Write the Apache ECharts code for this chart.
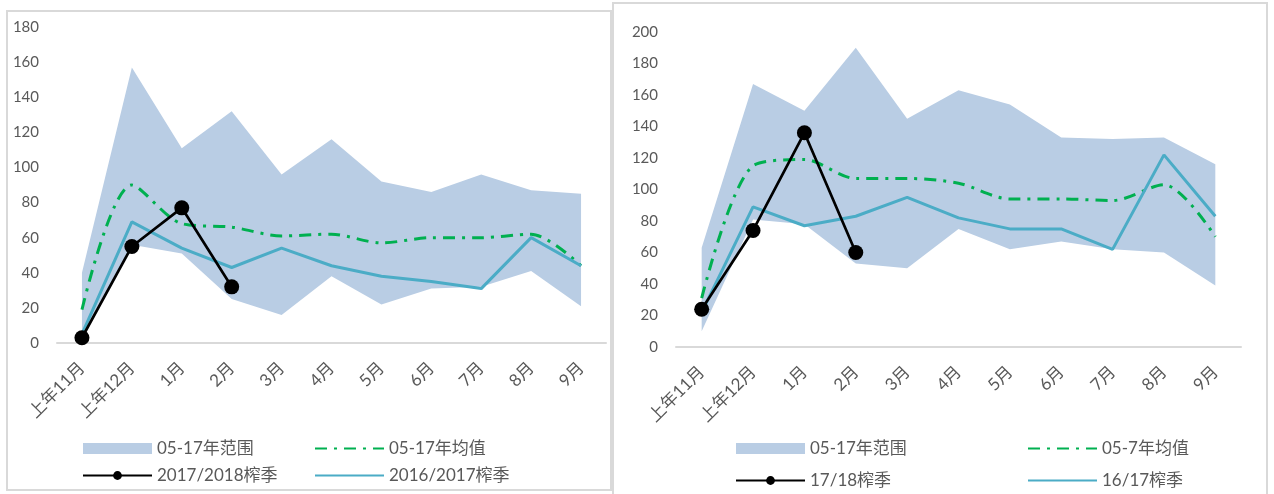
<!DOCTYPE html>
<html>
<head>
<meta charset="utf-8">
<script src="https://cdn.jsdelivr.net/npm/echarts@6/dist/echarts.min.js"></script>
<style>
  html, body { margin: 0; padding: 0; background: #fff; width: 1274px; height: 494px; overflow: hidden; position: relative; }
  .panel { position: absolute; box-sizing: border-box; border: 2px solid #d9d9d9; background: #fff; }
  #left  { left: 6px;   top: 10px; width: 606px; height: 481px; }
  #right { left: 612px; top: 2px;  width: 656px; height: 500px; }
</style>
</head>
<body>
<div id="left" class="panel"></div>
<div id="right" class="panel"></div>
<script>
// Month categories of the crushing season
const months = ['上年11月', '上年12月', '1月', '2月', '3月', '4月', '5月', '6月', '7月', '8月', '9月'];

// Left panel: 05-17 range, average and two seasons
const leftRangeMax = [40, 157, 111, 132, 96, 116, 92, 86, 96, 87, 85];
const leftRangeMin = [2, 56, 51, 25, 16, 38, 22, 31, 32, 41, 21];
const leftMean     = [19, 90, 68, 66, 61, 62, 57, 60, 60, 62, 44];
const left1718     = [3, 55, 77, 32];
const left1617     = [5, 69, 54, 43, 54, 44, 38, 35, 31, 60, 44];

// Right panel: 05-17 range, average and two seasons
const rightRangeMax = [63, 167, 150, 190, 145, 163, 154, 133, 132, 133, 116];
const rightRangeMin = [10, 81, 78, 53, 50, 75, 62, 67, 62, 60, 39];
const rightMean     = [31, 115, 119, 107, 107, 104, 94, 94, 93, 103, 70];
const right1718     = [24, 74, 136, 60];
const right1617     = [22, 89, 77, 83, 95, 82, 75, 75, 62, 122, 83];

const FONT = 'Lato, "Noto Sans CJK SC", sans-serif';
const TEXT = '#595959';
const BAND = '#B9CDE4';
const GREEN = '#00B050';
const CYAN = '#4BACC6';
const NO_MARK = { color: 'rgba(0,0,0,0)', borderWidth: 0, opacity: 0 };

function buildOption(cfg) {
  const bandSpan = cfg.max.map((v, i) => v - cfg.min[i]);
  const legendCommon = {
    orient: 'vertical',
    padding: 0,
    itemWidth: 69,
    itemHeight: 11,
    itemGap: cfg.legendGap,
    selectedMode: false,
    textStyle: { color: TEXT, fontSize: 17, fontFamily: FONT }
  };
  return {
    animation: false,
    backgroundColor: '#fff',
    textStyle: { fontFamily: FONT },
    grid: cfg.grid,
    xAxis: {
      type: 'category',
      data: months,
      boundaryGap: true,
      axisLine: { lineStyle: { color: '#d9d9d9', width: 2 } },
      axisTick: { show: false },
      axisLabel: { rotate: 45, interval: 0, color: TEXT, fontSize: 17, margin: 22, fontFamily: FONT }
    },
    yAxis: {
      type: 'value',
      min: 0,
      max: cfg.yMax,
      interval: 20,
      splitLine: { show: false },
      axisLine: { show: false },
      axisTick: { show: false },
      axisLabel: { color: TEXT, fontSize: 15, margin: 18, fontFamily: FONT }
    },
    legend: [
      Object.assign({}, legendCommon, {
        left: cfg.legendLeft[0], top: cfg.legendTop,
        data: [
          { name: cfg.names.band, icon: 'rect', itemStyle: { color: BAND } },
          { name: cfg.names.cur }
        ]
      }),
      Object.assign({}, legendCommon, {
        left: cfg.legendLeft[1], top: cfg.legendTop,
        data: [
          { name: cfg.names.mean, itemStyle: NO_MARK },
          { name: cfg.names.prev, itemStyle: NO_MARK }
        ]
      })
    ],
    series: [
      {
        name: 'bandBase', type: 'line', stack: 'band', data: cfg.min,
        symbol: 'none', silent: true,
        lineStyle: { width: 0, opacity: 0 }, areaStyle: { opacity: 0 }
      },
      {
        name: cfg.names.band, type: 'line', stack: 'band', data: bandSpan,
        symbol: 'none', silent: true,
        itemStyle: { color: BAND },
        lineStyle: { width: 0, opacity: 0 },
        areaStyle: { color: BAND, opacity: 1 }
      },
      {
        name: cfg.names.mean, type: 'line', data: cfg.mean,
        symbol: 'none', smooth: 0.3,
        itemStyle: { color: GREEN },
        lineStyle: { color: GREEN, width: 3, type: [12, 7, 3, 7] }
      },
      {
        name: cfg.names.prev, type: 'line', data: cfg.prev,
        symbol: 'none',
        itemStyle: { color: CYAN },
        lineStyle: { color: CYAN, width: 3 }
      },
      {
        name: cfg.names.cur, type: 'line', data: cfg.cur,
        symbol: 'circle', symbolSize: 15,
        itemStyle: { color: '#000' },
        lineStyle: { color: '#000', width: 2.7 }
      }
    ]
  };
}

const leftChart = echarts.init(document.getElementById('left'), null, { renderer: 'canvas' });
leftChart.setOption(buildOption({
  grid: { left: 49, top: 15, width: 549, height: 316 },
  yMax: 180,
  max: leftRangeMax, min: leftRangeMin, mean: leftMean, cur: left1718, prev: left1617,
  names: { band: '05-17年范围', mean: '05-17年均值', cur: '2017/2018榨季', prev: '2016/2017榨季' },
  legendLeft: [74, 306],
  legendTop: 428,
  legendGap: 10
}));

const rightChart = echarts.init(document.getElementById('right'), null, { renderer: 'canvas' });
rightChart.setOption(buildOption({
  grid: { left: 62, top: 28, width: 565, height: 315 },
  yMax: 200,
  max: rightRangeMax, min: rightRangeMin, mean: rightMean, cur: right1718, prev: right1617,
  names: { band: '05-17年范围', mean: '05-7年均值', cur: '17/18榨季', prev: '16/17榨季' },
  legendLeft: [121, 413],
  legendTop: 436,
  legendGap: 15
}));
</script>
</body>
</html>
